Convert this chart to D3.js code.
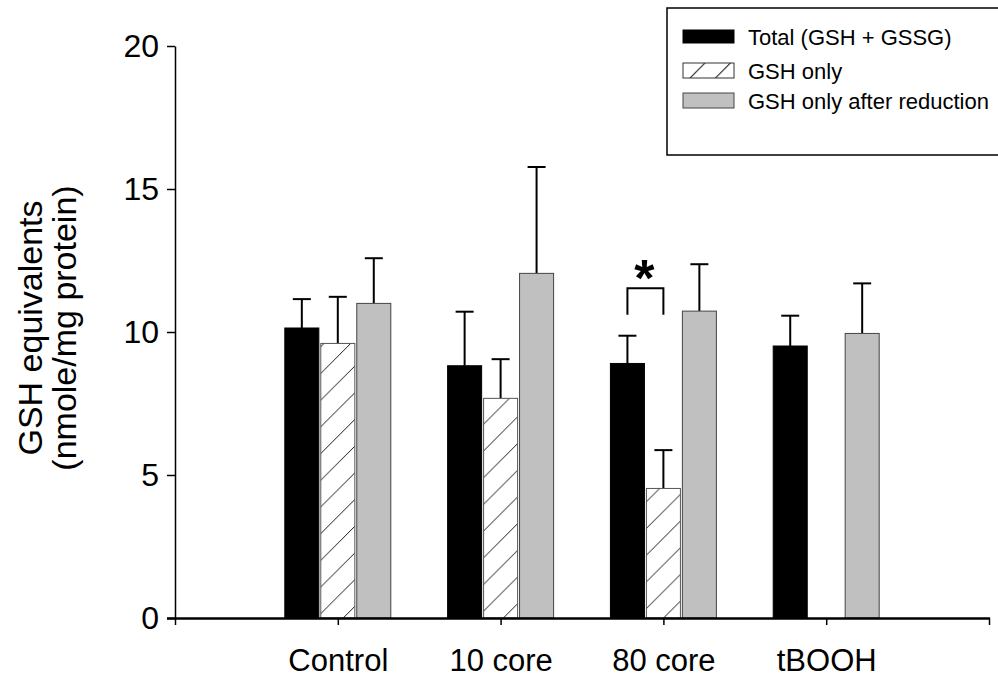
<!DOCTYPE html>
<html>
<head>
<meta charset="utf-8">
<script src="https://cdn.jsdelivr.net/npm/d3@7"></script>
<style>
  html, body { margin: 0; padding: 0; background: #fff; }
  svg { display: block; font-family: "Liberation Sans", Arial, sans-serif; }
</style>
</head>
<body>
<svg id="chart" width="998" height="681"></svg>
<script>
// ---- data ----
const categories = ["Control", "10 core", "80 core", "tBOOH"];
const seriesNames = ["Total (GSH + GSSG)", "GSH only", "GSH only after reduction"];
const totalMean   = [10.14, 8.82, 8.90, 9.51];
const totalErr    = [1.01, 1.89, 0.97, 1.06];
const gshMean     = [9.60, 7.68, 4.53, null];
const gshErr      = [1.63, 1.37, 1.34, null];
const reducedMean = [11.00, 12.05, 10.73, 9.95];
const reducedErr  = [1.58, 3.72, 1.64, 1.75];
const yTicks = [0, 5, 10, 15, 20];
const yTitle = ["GSH equivalents", "(nmole/mg protein)"];
const sigBracket = { category: 2, from: 0, to: 1, top: 11.53, legBottom: 10.6, label: "*" };

// ---- layout ----
const svg = d3.select("#chart");
const x = d3.scaleLinear().domain([0, 5]).range([175, 989]);
const y = d3.scaleLinear().domain([0, 20]).range([618, 46]);
const barW = x(0.209) - x(0);
const offsets = [-0.221, 0, 0.221];

const defs = svg.append("defs");
const pat = defs.append("pattern")
  .attr("id", "hatch").attr("patternUnits", "userSpaceOnUse")
  .attr("width", 26.7).attr("height", 26.7);
pat.append("rect").attr("width", 26.7).attr("height", 26.7).attr("fill", "#fff");
pat.append("path")
  .attr("d", "M0,26.7 L26.7,0 M-6,6 L6,-6 M20.7,32.7 L32.7,20.7")
  .attr("stroke", "#000").attr("stroke-width", 0.9);

const legPat = defs.append("pattern")
  .attr("id", "hatchLeg").attr("patternUnits", "userSpaceOnUse")
  .attr("x", 683).attr("y", 63)
  .attr("width", 25.5).attr("height", 15);
legPat.append("rect").attr("width", 25.5).attr("height", 15).attr("fill", "#fff");
legPat.append("path")
  .attr("d", "M7,15 L22,0")
  .attr("stroke", "#000").attr("stroke-width", 1);

const series = [
  { mean: totalMean, err: totalErr, fill: "#000", stroke: "#000" },
  { mean: gshMean, err: gshErr, fill: "url(#hatch)", stroke: "#555" },
  { mean: reducedMean, err: reducedErr, fill: "#c0c0c0", stroke: "#444" }
];

// bars
series.forEach((s, si) => {
  const g = svg.append("g");
  categories.forEach((c, ci) => {
    const v = s.mean[ci];
    if (v == null) return;
    const cx = x(ci + 1 + offsets[si]);
    const e = s.err[ci];
    g.append("line").attr("x1", cx).attr("x2", cx)
      .attr("y1", y(v)).attr("y2", y(v + e))
      .attr("stroke", "#000").attr("stroke-width", 2);
    g.append("line").attr("x1", cx - 9).attr("x2", cx + 9)
      .attr("y1", y(v + e)).attr("y2", y(v + e))
      .attr("stroke", "#000").attr("stroke-width", 2);
    g.append("rect")
      .attr("x", cx - barW / 2).attr("y", y(v))
      .attr("width", barW).attr("height", y(0) - y(v))
      .attr("fill", s.fill).attr("stroke", s.stroke).attr("stroke-width", 1);
  });
});

// axes
const yAxis = d3.axisLeft(y).tickValues(yTicks).tickSize(8).tickSizeOuter(0).tickPadding(8);
const gy = svg.append("g").attr("transform", `translate(${x(0)},0)`).call(yAxis);
gy.select(".domain").attr("stroke", "#000").attr("stroke-width", 1.5);
gy.selectAll(".tick line").attr("stroke", "#000").attr("stroke-width", 1.5);
gy.selectAll(".tick text").attr("font-size", 32).attr("fill", "#000")
  .attr("font-family", "Liberation Sans, Arial, sans-serif");

const xAxis = d3.axisBottom(x).tickValues([0, 1, 2, 3, 4, 5]).tickSize(7).tickSizeOuter(0)
  .tickFormat(d => (d >= 1 && d <= 4) ? categories[d - 1] : "").tickPadding(24);
const gx = svg.append("g").attr("transform", `translate(0,${y(0)})`).call(xAxis);
gx.select(".domain").attr("stroke", "#000").attr("stroke-width", 2.5)
  .attr("d", `M${x(0) - 8},0.5H${x(5) + 1}`);
gx.selectAll(".tick line").attr("stroke", "#000").attr("stroke-width", 1.5);
gx.selectAll(".tick text").attr("font-size", 31).attr("fill", "#000")
  .attr("font-family", "Liberation Sans, Arial, sans-serif");

// y title
const yt = svg.append("text")
  .attr("transform", `translate(42,${(y(0) + y(20)) / 2 - 4}) rotate(-90)`)
  .attr("text-anchor", "middle").attr("font-size", 34).attr("fill", "#000");
yTitle.forEach((t, i) => {
  yt.append("tspan").attr("x", 0).attr("dy", i === 0 ? 0 : 34).text(t);
});

// significance bracket
const bx1 = x(sigBracket.category + 1 + offsets[sigBracket.from]);
const bx2 = x(sigBracket.category + 1 + offsets[sigBracket.to]);
svg.append("path")
  .attr("d", `M${bx1},${y(sigBracket.legBottom)}V${y(sigBracket.top)}H${bx2}V${y(sigBracket.legBottom)}`)
  .attr("fill", "none").attr("stroke", "#000").attr("stroke-width", 2);
svg.append("text").attr("x", (bx1 + bx2) / 2 - 1).attr("y", y(sigBracket.top) + 8)
  .attr("text-anchor", "middle").attr("font-size", 52).attr("font-weight", "bold")
  .text(sigBracket.label);

// legend
const leg = svg.append("g");
leg.append("rect").attr("x", 667).attr("y", 8).attr("width", 340).attr("height", 147)
  .attr("fill", "#fff").attr("stroke", "#000").attr("stroke-width", 1.5);
const legItems = [
  { y: 30, h: 13, fill: "#000", stroke: "#000" },
  { y: 63, h: 15, fill: "url(#hatchLeg)", stroke: "#333" },
  { y: 93, h: 15, fill: "#c0c0c0", stroke: "#444" }
];
legItems.forEach((it, i) => {
  leg.append("rect").attr("x", 683).attr("y", it.y).attr("width", 51).attr("height", it.h)
    .attr("fill", it.fill).attr("stroke", it.stroke).attr("stroke-width", 1);
  leg.append("text").attr("x", 748).attr("y", it.y + it.h / 2 + 8)
    .attr("font-size", 22).attr("fill", "#000").text(seriesNames[i]);
});
</script>
</body>
</html>
